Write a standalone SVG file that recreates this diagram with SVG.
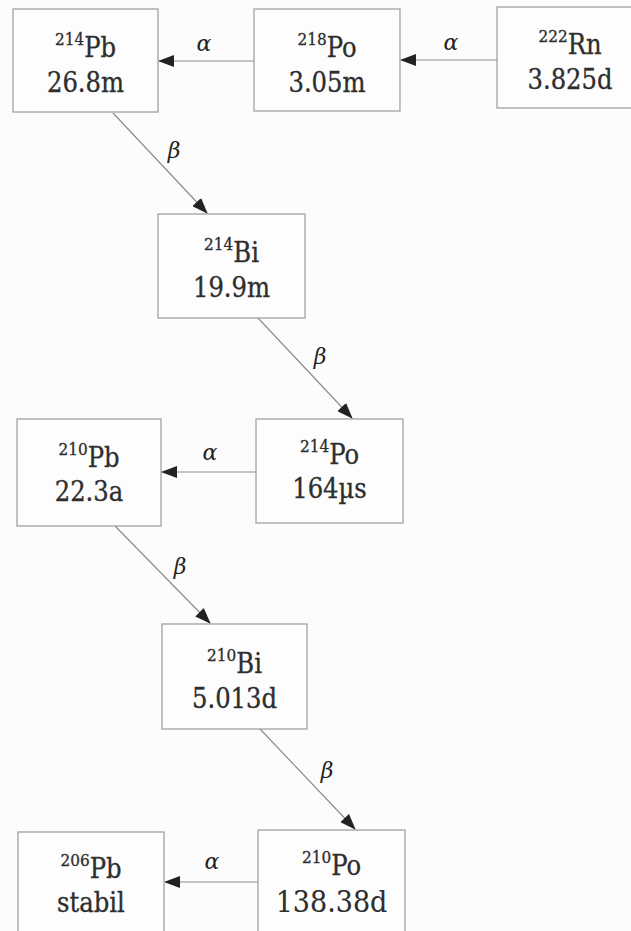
<svg xmlns="http://www.w3.org/2000/svg" width="631" height="931" viewBox="0 0 631 931">
<defs>
<marker id="ah" markerWidth="16" markerHeight="12" refX="15" refY="6" orient="auto" markerUnits="userSpaceOnUse">
<path d="M0,0 L16,6 L0,12 Z" fill="#222"/>
</marker>
<style>
.box{fill:#fdfdfd;stroke:#9a9a9a;stroke-width:1.2}
.t{font-family:"DejaVu Serif Condensed","DejaVu Serif",serif;font-stretch:condensed;font-size:27px;fill:#2e2e2e;stroke:#2e2e2e;stroke-width:0.3;text-anchor:middle}
.sup{font-size:17px}
.c{stroke:#8c8c8c;stroke-width:1.2;fill:none;marker-end:url(#ah)}
.a{font-family:"DejaVu Serif",serif;font-size:22px;fill:#222;font-style:italic;text-anchor:middle}
.b{font-family:"DejaVu Serif",serif;font-size:22px;fill:#222;font-style:italic;text-anchor:middle}
</style>
</defs>
<rect width="631" height="931" fill="#fcfcfc"/>

<g id="connectors">
<line class="c" x1="254" y1="61" x2="159" y2="61"/>
<line class="c" x1="497" y1="60" x2="401" y2="60"/>
<line class="c" x1="113" y1="113" x2="207" y2="213"/>
<line class="c" x1="258" y1="318" x2="352" y2="418"/>
<line class="c" x1="256" y1="472" x2="162" y2="472"/>
<line class="c" x1="115" y1="526" x2="210" y2="623"/>
<line class="c" x1="260" y1="729" x2="355" y2="829"/>
<line class="c" x1="258" y1="882" x2="165" y2="882"/>
<text class="a" x="204" y="51">α</text>
<text class="a" x="451" y="50">α</text>
<text class="a" x="210" y="460">α</text>
<text class="a" x="212" y="869">α</text>
<text class="b" x="174" y="158">β</text>
<text class="b" x="320" y="364">β</text>
<text class="b" x="180" y="574">β</text>
<text class="b" x="327" y="778">β</text>
</g>

<g id="n-214Pb">
<rect class="box" x="13" y="9" width="145" height="103"/>
<text class="t" x="85.5" y="57"><tspan class="sup" dy="-12">214</tspan><tspan dy="12">Pb</tspan></text>
<text class="t" x="85.5" y="92">26.8m</text>
</g>
<g id="n-218Po">
<rect class="box" x="254" y="9" width="146" height="102"/>
<text class="t" x="327" y="57"><tspan class="sup" dy="-12">218</tspan><tspan dy="12">Po</tspan></text>
<text class="t" x="327" y="92">3.05m</text>
</g>
<g id="n-222Rn">
<rect class="box" x="497" y="7" width="146" height="101"/>
<text class="t" x="570" y="54"><tspan class="sup" dy="-12">222</tspan><tspan dy="12">Rn</tspan></text>
<text class="t" x="570" y="89">3.825d</text>
</g>
<g id="n-214Bi">
<rect class="box" x="158" y="214" width="147" height="104"/>
<text class="t" x="231.5" y="262"><tspan class="sup" dy="-12">214</tspan><tspan dy="12">Bi</tspan></text>
<text class="t" x="231.5" y="297">19.9m</text>
</g>
<g id="n-210Pb">
<rect class="box" x="17" y="419" width="144" height="107"/>
<text class="t" x="89" y="467"><tspan class="sup" dy="-12">210</tspan><tspan dy="12">Pb</tspan></text>
<text class="t" x="89" y="501">22.3a</text>
</g>
<g id="n-214Po">
<rect class="box" x="256" y="419" width="147" height="104"/>
<text class="t" x="329.5" y="464"><tspan class="sup" dy="-12">214</tspan><tspan dy="12">Po</tspan></text>
<text class="t" x="329.5" y="498">164µs</text>
</g>
<g id="n-210Bi">
<rect class="box" x="162" y="624" width="145" height="105"/>
<text class="t" x="234.5" y="673"><tspan class="sup" dy="-12">210</tspan><tspan dy="12">Bi</tspan></text>
<text class="t" x="234.5" y="708">5.013d</text>
</g>
<g id="n-206Pb">
<rect class="box" x="18" y="832" width="146" height="110"/>
<text class="t" x="91" y="878"><tspan class="sup" dy="-12">206</tspan><tspan dy="12">Pb</tspan></text>
<text class="t" x="91" y="912">stabil</text>
</g>
<g id="n-210Po">
<rect class="box" x="258" y="830" width="147" height="110"/>
<text class="t" x="331.5" y="875"><tspan class="sup" dy="-12">210</tspan><tspan dy="12">Po</tspan></text>
<text class="t" x="331.5" y="912" style="font-size:30px;stroke-width:0.1">138.38d</text>
</g>
</svg>
